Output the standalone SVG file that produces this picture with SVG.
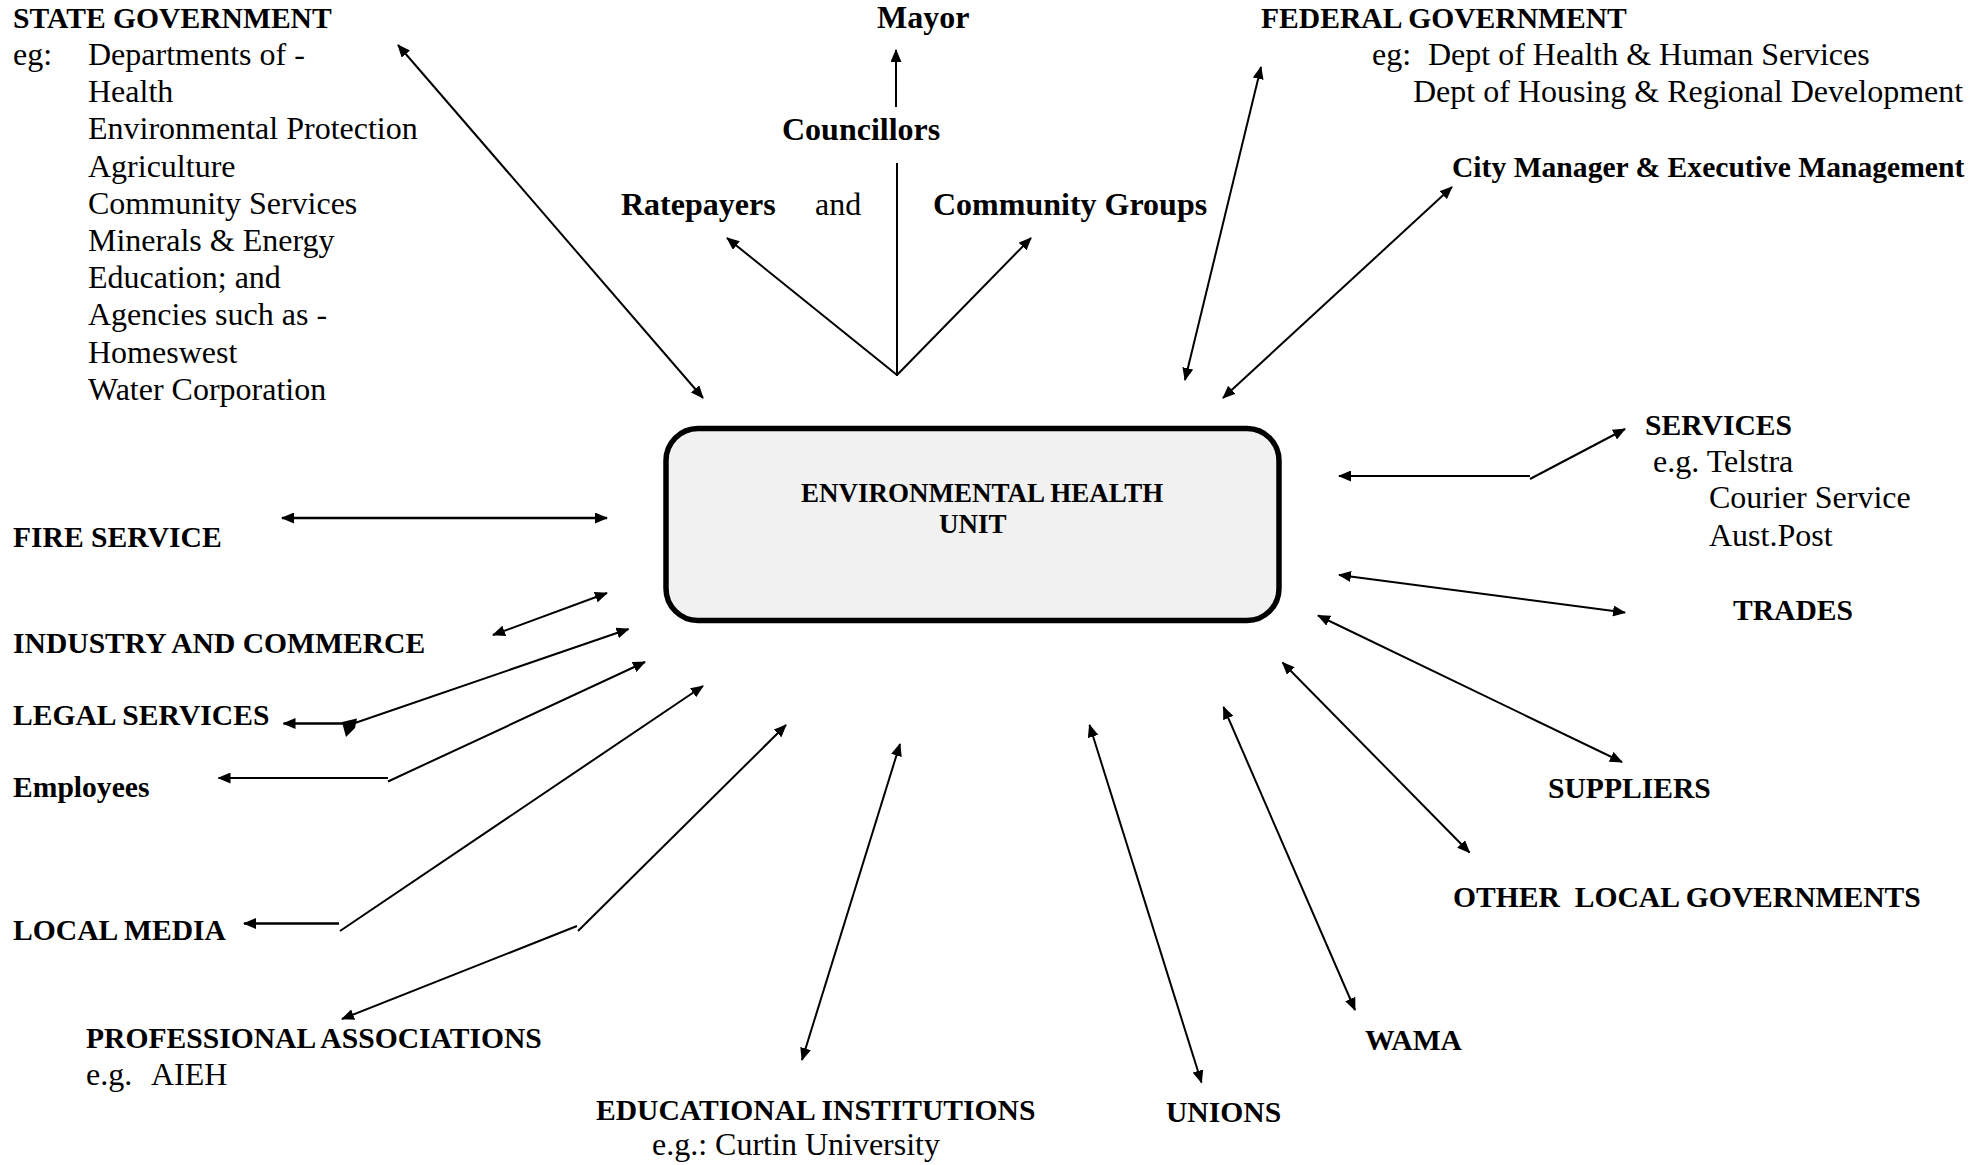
<svg xmlns="http://www.w3.org/2000/svg" width="1987" height="1165" viewBox="0 0 1987 1165">
<style>
text{font-family:"Liberation Serif","Times New Roman",serif;fill:#000}
.b{font-weight:bold;font-size:29.6px}
.bm{font-weight:bold;font-size:32px}
.r{font-size:32px}
.bx{font-weight:bold;font-size:27px}
.c line{stroke:#000;stroke-width:2;fill:none}
.c .t{stroke-width:2.6}
</style>
<defs>
<marker id="ah" viewBox="0 0 13 11" refX="12" refY="5.5" markerWidth="13" markerHeight="11" markerUnits="userSpaceOnUse" orient="auto-start-reverse"><path d="M0,0 L13,5.5 L0,11 z" fill="#000"/></marker>
</defs>
<rect width="1987" height="1165" fill="#fff"/>

<g id="ehu">
<rect x="666" y="428.5" width="613" height="192" rx="32" ry="32" fill="#f1f1f1" stroke="#000" stroke-width="5.5"/>
<text class="bx" x="801" y="502">ENVIRONMENTAL HEALTH</text>
<text class="bx" x="939" y="533">UNIT</text>
</g>

<g id="state-government">
<text class="b" x="13" y="28">STATE GOVERNMENT</text>
<text class="r" x="13" y="65">eg:</text>
<text class="r" x="88" y="65">Departments of -</text>
<text class="r" x="88" y="102">Health</text>
<text class="r" x="88" y="139">Environmental Protection</text>
<text class="r" x="88" y="177">Agriculture</text>
<text class="r" x="88" y="214">Community Services</text>
<text class="r" x="88" y="251">Minerals &amp; Energy</text>
<text class="r" x="88" y="288">Education; and</text>
<text class="r" x="88" y="325">Agencies such as -</text>
<text class="r" x="88" y="363">Homeswest</text>
<text class="r" x="88" y="400">Water Corporation</text>
</g>

<g id="mayor"><text class="bm" x="877" y="28">Mayor</text></g>
<g id="councillors"><text class="bm" x="782" y="140">Councillors</text></g>
<g id="ratepayers"><text class="bm" x="621" y="215">Ratepayers</text></g>
<g id="and"><text class="r" x="815" y="215">and</text></g>
<g id="community-groups"><text class="bm" x="933" y="215">Community Groups</text></g>

<g id="federal-government">
<text class="b" x="1261" y="28">FEDERAL GOVERNMENT</text>
<text class="r" x="1372" y="65">eg:</text>
<text class="r" x="1428" y="65">Dept of Health &amp; Human Services</text>
<text class="r" x="1413" y="102">Dept of Housing &amp; Regional Development</text>
</g>

<g id="city-manager"><text class="b" x="1452" y="177">City Manager &amp; Executive Management</text></g>

<g id="services">
<text class="b" x="1645" y="435">SERVICES</text>
<text class="r" x="1653" y="472">e.g. Telstra</text>
<text class="r" x="1709" y="508">Courier Service</text>
<text class="r" x="1709" y="546">Aust.Post</text>
</g>

<g id="trades"><text class="b" x="1733" y="620">TRADES</text></g>
<g id="suppliers"><text class="b" x="1548" y="798">SUPPLIERS</text></g>
<g id="other-local-governments"><text class="b" x="1453" y="907" xml:space="preserve">OTHER  LOCAL GOVERNMENTS</text></g>
<g id="wama"><text class="b" x="1365" y="1050">WAMA</text></g>
<g id="unions"><text class="b" x="1166" y="1122">UNIONS</text></g>
<g id="educational-institutions">
<text class="b" x="596" y="1120">EDUCATIONAL INSTITUTIONS</text>
<text class="r" x="652" y="1155">e.g.: Curtin University</text>
</g>
<g id="professional-associations">
<text class="b" x="86" y="1048">PROFESSIONAL ASSOCIATIONS</text>
<text class="r" x="86" y="1085">e.g.</text>
<text class="r" x="151" y="1085">AIEH</text>
</g>
<g id="local-media"><text class="b" x="13" y="940">LOCAL MEDIA</text></g>
<g id="employees"><text class="b" x="13" y="797">Employees</text></g>
<g id="legal-services"><text class="b" x="13" y="725">LEGAL SERVICES</text></g>
<g id="industry-commerce"><text class="b" x="13" y="653">INDUSTRY AND COMMERCE</text></g>
<g id="fire-service"><text class="b" x="13" y="547">FIRE SERVICE</text></g>

<g id="connectors" class="c">
<line x1="398" y1="45" x2="703" y2="398" marker-start="url(#ah)" marker-end="url(#ah)"/>
<line x1="896" y1="107" x2="896" y2="50" marker-end="url(#ah)"/>
<line x1="897" y1="163" x2="897" y2="376"/>
<line x1="897" y1="375" x2="727" y2="238" marker-end="url(#ah)"/>
<line x1="897" y1="375" x2="1031" y2="238" marker-end="url(#ah)"/>
<line x1="1261" y1="67" x2="1185" y2="380" marker-start="url(#ah)" marker-end="url(#ah)"/>
<line x1="1452" y1="187" x2="1223" y2="398" marker-start="url(#ah)" marker-end="url(#ah)"/>
<line class="t" x1="282" y1="518" x2="607" y2="518" marker-start="url(#ah)" marker-end="url(#ah)"/>
<line x1="493" y1="635" x2="607" y2="593" marker-start="url(#ah)" marker-end="url(#ah)"/>
<line x1="628.5" y1="629" x2="352" y2="724" marker-start="url(#ah)"/>
<polygon points="342,722 357,718.5 355,728 346,737" fill="#000"/>
<line class="t" x1="344" y1="723.5" x2="283.5" y2="723.5" marker-end="url(#ah)"/>
<line x1="645" y1="662" x2="388" y2="781.5" marker-start="url(#ah)"/>
<line x1="388" y1="778" x2="218.5" y2="778" marker-end="url(#ah)"/>
<line x1="703" y1="686" x2="340" y2="931" marker-start="url(#ah)"/>
<line class="t" x1="339" y1="923.5" x2="244" y2="923.5" marker-end="url(#ah)"/>
<line x1="786" y1="725" x2="578" y2="931" marker-start="url(#ah)"/>
<line x1="577" y1="926" x2="342" y2="1019" marker-end="url(#ah)"/>
<line x1="900" y1="744" x2="802" y2="1060" marker-start="url(#ah)" marker-end="url(#ah)"/>
<line x1="1089.5" y1="725" x2="1201.5" y2="1082.5" marker-start="url(#ah)" marker-end="url(#ah)"/>
<line x1="1223.5" y1="707" x2="1355" y2="1010" marker-start="url(#ah)" marker-end="url(#ah)"/>
<line x1="1282.5" y1="662.5" x2="1469.5" y2="852.5" marker-start="url(#ah)" marker-end="url(#ah)"/>
<line x1="1318" y1="615.5" x2="1622" y2="762" marker-start="url(#ah)" marker-end="url(#ah)"/>
<line x1="1339" y1="575" x2="1625" y2="612.5" marker-start="url(#ah)" marker-end="url(#ah)"/>
<line x1="1530" y1="476" x2="1339" y2="476" marker-end="url(#ah)"/>
<line x1="1530" y1="479" x2="1625" y2="429" marker-end="url(#ah)"/>
</g>
</svg>
